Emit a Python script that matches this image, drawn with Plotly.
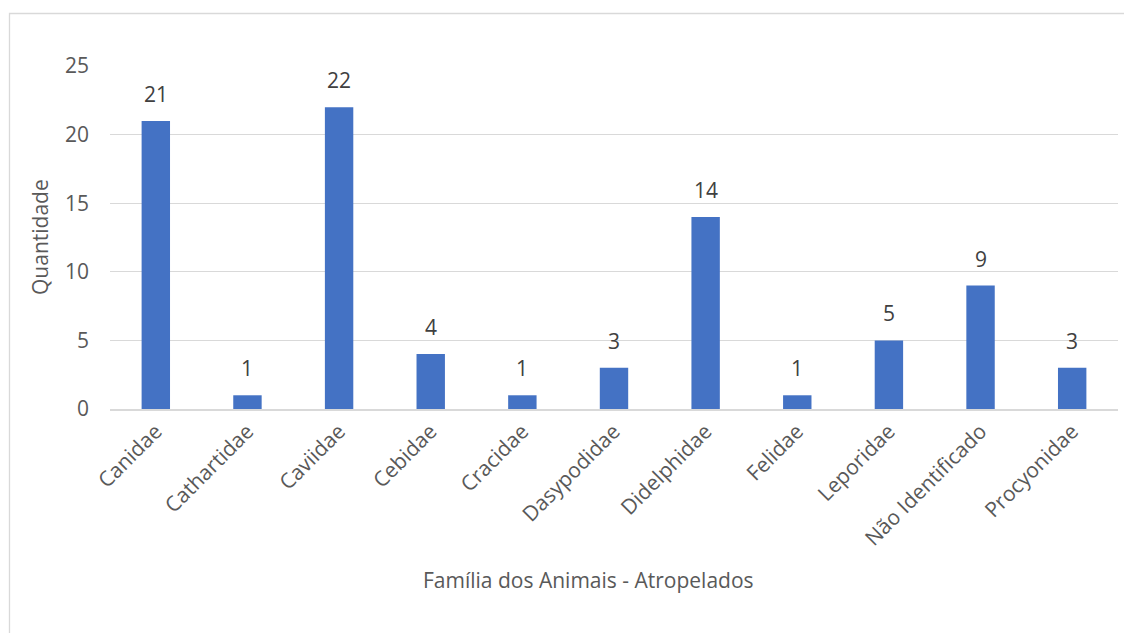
import plotly.graph_objects as go

categories = ["Canidae", "Cathartidae", "Caviidae", "Cebidae", "Cracidae", "Dasypodidae",
              "Didelphidae", "Felidae", "Leporidae", "Não Identificado", "Procyonidae"]
values = [21, 1, 22, 4, 1, 3, 14, 1, 5, 9, 3]
y_ticks = [0, 5, 10, 15, 20, 25]

FONT = "Open Sans"
TXT = "#595959"
GRID = "#D9D9D9"
BAR = "#4472C4"
FS = 21

# page body has an 8px margin; work in figure coordinates
W, H = 1124, 625
L, R, T, B = 102, 14, 58, 224
pw, ph = W - L - R, H - T - B

def px(xp):
    return (xp - L) / pw

def py(yp):
    return (H - B - yp) / ph

fig = go.Figure()
fig.add_trace(go.Bar(x=categories, y=values, marker=dict(color=BAR, line=dict(width=0)),
                     width=0.31, hoverinfo="x+y"))

for c, v in zip(categories, values):
    fig.add_annotation(x=c, y=v, text=str(v), showarrow=False, yanchor="bottom",
                       yshift=11, font=dict(family=FONT, size=FS, color="#404040"))

# axis titles
fig.add_annotation(xref="paper", yref="paper", x=px(32), y=py(229), text="Quantidade",
                   textangle=-90, showarrow=False, xanchor="center", yanchor="middle",
                   font=dict(family=FONT, size=FS, color=TXT))
fig.add_annotation(xref="paper", yref="paper", x=px(580), y=py(572),
                   text="Família dos Animais - Atropelados", showarrow=False,
                   xanchor="center", yanchor="middle",
                   font=dict(family=FONT, size=FS, color=TXT))

fig.add_shape(type="rect", xref="paper", yref="paper",
              x0=px(1.5), x1=px(1140), y0=py(640), y1=py(5.5),
              line=dict(color=GRID, width=1.3), fillcolor="rgba(0,0,0,0)", layer="below")

fig.update_layout(
    width=W, height=H,
    margin=dict(l=L, r=R, t=T, b=B, autoexpand=False),
    paper_bgcolor="white", plot_bgcolor="white",
    showlegend=False,
    font=dict(family=FONT, size=FS, color=TXT),
    bargap=0.69,
)
fig.update_xaxes(
    tickangle=-45, tickfont=dict(family=FONT, size=FS, color=TXT),
    showgrid=False, showline=True, linecolor=GRID, linewidth=1.5,
    ticks="", automargin=False,
)
fig.update_yaxes(
    range=[0, 25], tickvals=y_ticks, ticktext=[str(t) for t in y_ticks],
    tickfont=dict(family=FONT, size=FS, color=TXT),
    showgrid=True, gridcolor=GRID, gridwidth=1.3, zeroline=False,
    showline=False, ticks="", ticklabelstandoff=20, automargin=False,
)

fig.write_html("out.html")
